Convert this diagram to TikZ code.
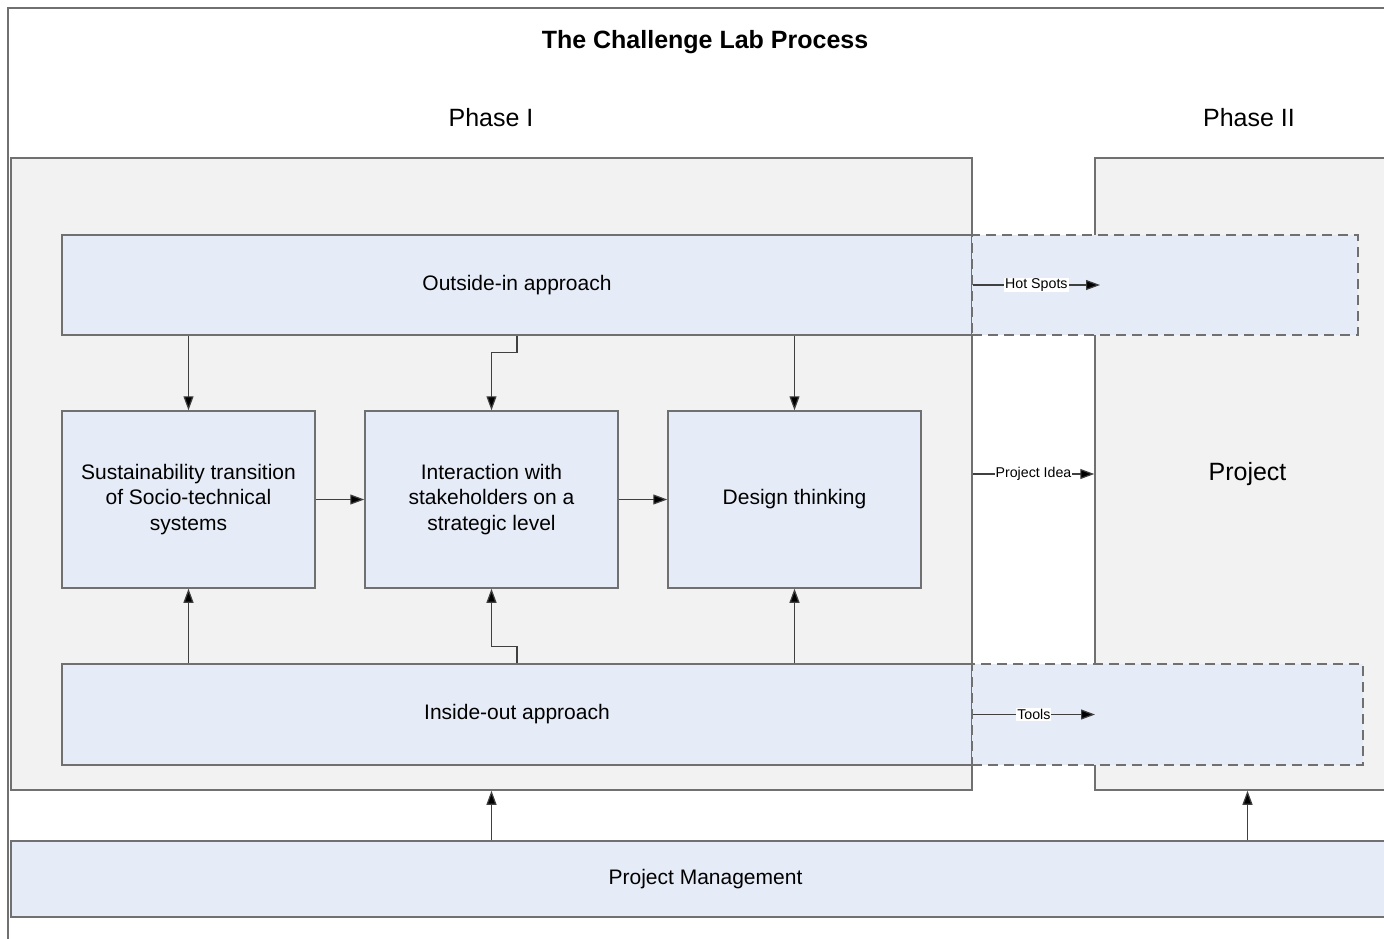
\documentclass[tikz,border=0pt]{standalone}
\usepackage{fontspec}
\setmainfont{Liberation Sans}
\usetikzlibrary{arrows.meta}
\definecolor{phasefill}{HTML}{F2F2F2}
\definecolor{boxfill}{HTML}{E6ECF7}
\definecolor{edgegray}{HTML}{707070}

\begin{document}
\begin{tikzpicture}[x=1pt, y=-1pt,
    phasebox/.style={draw=edgegray, line width=1.5pt, fill=phasefill, inner sep=0pt},
    procbox/.style={draw=edgegray, line width=1.5pt, fill=boxfill, inner sep=0pt,
      align=center, font=\fontsize{21}{25.5}\selectfont},
    extbox/.style={draw=edgegray, line width=1.5pt, dash pattern=on 10pt off 6pt,
      fill=boxfill, inner sep=0pt},
    flow/.style={draw=black!75, line width=1.2pt,
      -{Triangle[length=14pt, width=10pt, fill=black]}},
    tag/.style={fill=white, inner sep=1pt, font=\fontsize{14.2}{16}\selectfont}]
      \useasboundingbox (0,0) rectangle (1384,938);

      % frame and headings
      \draw[edgegray, line width=1.5pt] (8,950) -- (8,8) -- (1400,8);
      \node[font=\bfseries\fontsize{25}{30}\selectfont] (title) at (705,42) {The Challenge Lab Process};
      \node[font=\fontsize{25}{30}\selectfont] (labelone) at (491,118) {Phase I};
      \node[font=\fontsize{25}{30}\selectfont] (labeltwo) at (1249,118) {Phase II};

      % phases
      \node[phasebox, minimum width=961pt, minimum height=632pt] (phaseone) at (491.5,474) {};
      \node[phasebox, minimum width=305pt, minimum height=632pt,
        font=\fontsize{25}{30}\selectfont] (phasetwo) at (1247.5,474) {Project};

      % approaches
      \node[procbox, minimum width=910pt, minimum height=100pt] (outin) at (517,285) {Outside-in approach};
      \node[procbox, minimum width=910pt, minimum height=101pt] (inout) at (517,714.5) {Inside-out approach};
      \node[extbox, minimum width=386pt, minimum height=100pt] (hotext) at (1165,285) {};
      \node[extbox, minimum width=391pt, minimum height=101pt] (toolext) at (1167.5,714.5) {};

      % steps
      \node[procbox, minimum width=253pt, minimum height=177pt] (sust) at (188.5,499.5)
        {Sustainability transition\\of Socio-technical\\systems};
      \node[procbox, minimum width=253pt, minimum height=177pt] (inter) at (491.5,499.5)
        {Interaction with\\stakeholders on a\\strategic level};
      \node[procbox, minimum width=253pt, minimum height=177pt] (design) at (794.5,499.5)
        {Design thinking};

      \node[procbox, minimum width=1389pt, minimum height=76pt] (pm) at (705.5,879) {Project Management};

      % connectors
      \draw[flow] (outin.south -| sust.north) -- (sust.north);
      \draw[flow] (outin.south) -- ++(0,17) -| (inter.north);
      \draw[flow] (outin.south -| design.north) -- (design.north);
      \draw[flow] (inout.north -| sust.south) -- (sust.south);
      \draw[flow] (inout.north) -- ++(0,-17) -| (inter.south);
      \draw[flow] (inout.north -| design.south) -- (design.south);
      \draw[flow] (sust) -- (inter);
      \draw[flow] (inter) -- (design);

      \coordinate (hotend) at (1100,285);
      \coordinate (toolend) at (1095,714.5);
      \draw[flow] (outin.east) -- node[tag] {Hot Spots} (hotend);
      \draw[flow] (phaseone.east) -- node[tag] {Project Idea} (phasetwo.west);
      \draw[flow] (inout.east) -- node[tag] {Tools} (toolend);

      \draw[flow] (pm.north -| phaseone.south) -- (phaseone.south);
      \draw[flow] (pm.north -| phasetwo.south) -- (phasetwo.south);
    \end{tikzpicture}
\end{document}
